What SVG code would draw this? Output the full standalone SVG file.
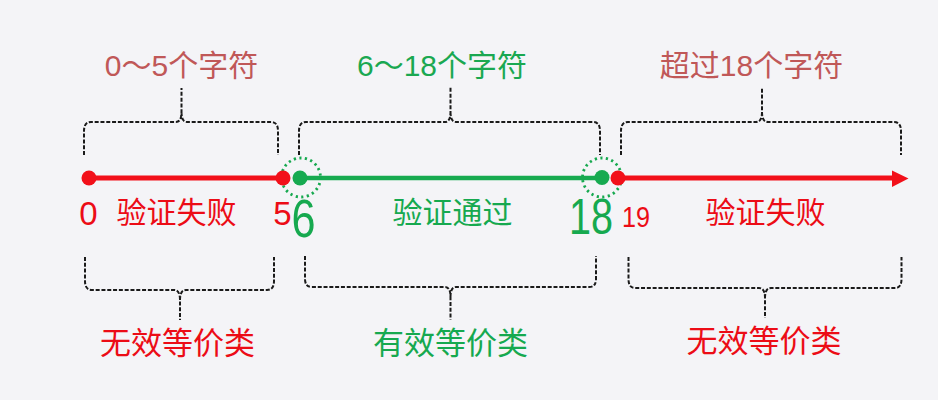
<svg xmlns="http://www.w3.org/2000/svg" width="938" height="400" viewBox="0 0 938 400">
<style>
text{font-family:"Liberation Sans","Noto Sans CJK SC",sans-serif;text-anchor:middle}
.brace{fill:none;stroke:#1a1a1a;stroke-width:2;stroke-dasharray:4 1.8}
.red{fill:#ec0c16}
.green{fill:#16a94f}
.top{fill:#c05858;font-size:30px}
.topg{fill:#1aa851;font-size:30px}
.lbl{font-size:30px}
.num{font-size:33px}
.ring{fill:none;stroke:#16a94f;stroke-width:2.8;stroke-dasharray:2.2 3.4}
</style>
<rect width="938" height="400" fill="#f4f4f7"/>
<g id="connectors">
<line x1="89" y1="178" x2="283" y2="178" stroke="#f2101a" stroke-width="5"/>
<line x1="300" y1="178" x2="602" y2="178" stroke="#17aa50" stroke-width="4.5"/>
<line x1="618" y1="178" x2="894" y2="178" stroke="#f2101a" stroke-width="5"/>
<polygon points="892,170.5 908.5,178.5 892,187" fill="#f2101a"/>
</g>
<g id="braces-top">
<path class="brace" d="M84,155 L84,131 Q84,122 91,122 L176,122 Q181.5,122 181.5,112 L181.5,88 M181.5,112 Q181.5,122 187,122 L271,122 Q278,122 278,131 L278,155"/>
<path class="brace" d="M299,155 L299,131 Q299,122 306,122 L445,122 Q450.5,122 450.5,112 L450.5,87 M450.5,112 Q450.5,122 456,122 L593,122 Q600,122 600,131 L600,155"/>
<path class="brace" d="M621,155 L621,131 Q621,122 628,122 L756,122 Q762,122 762,112 L762,88 M762,112 Q762,122 768,122 L894,122 Q901,122 901,131 L901,155"/>
</g>
<g id="braces-bottom">
<path class="brace" d="M85,257 L85,281 Q85,290 92,290 L174,290 Q180,290 180,300 L180,320 M180,300 Q180,290 186,290 L267,290 Q274,290 274,281 L274,257"/>
<path class="brace" d="M305,256 L305,279 Q305,287 312,287 L445,287 Q450.5,287 450.5,297 L450.5,320 M450.5,297 Q450.5,287 456,287 L589,287 Q596,287 596,279 L596,256"/>
<path class="brace" d="M628.5,257 L628.5,279 Q628.5,288 635,288 L759,288 Q765,288 765,298 L765,318 M765,298 Q765,288 771,288 L895,288 Q901.5,288 901.5,279 L901.5,257"/>
</g>
<g id="points">
<circle class="ring" cx="301" cy="177.5" r="19.5"/>
<circle class="ring" cx="602" cy="177.5" r="19.5"/>
<circle cx="89" cy="178" r="7.5" fill="#f2101a"/>
<circle cx="283" cy="178" r="7.5" fill="#f2101a"/>
<circle cx="300" cy="178" r="7.5" fill="#17aa50"/>
<circle cx="602" cy="177.5" r="7.5" fill="#17aa50"/>
<circle cx="618" cy="178" r="7.5" fill="#f2101a"/>
</g>
<g id="top-labels">
<text class="top" x="181.5" y="76">0～5个字符</text>
<text class="topg" x="442" y="76">6～18个字符</text>
<text class="top" x="751.5" y="76">超过18个字符</text>
</g>
<g id="axis-labels">
<text class="red num" x="88.5" y="225">0</text>
<text class="red lbl" x="176.5" y="223">验证失败</text>
<text class="red num" x="282.5" y="225">5</text>
<text class="green" x="303.5" y="237" font-size="54" textLength="24" lengthAdjust="spacingAndGlyphs">6</text>
<text class="green lbl" x="452.5" y="223">验证通过</text>
<text class="green" x="591" y="234" font-size="50" textLength="44" lengthAdjust="spacingAndGlyphs">18</text>
<text class="red" x="636" y="227" font-size="30" textLength="28" lengthAdjust="spacingAndGlyphs">19</text>
<text class="red lbl" x="765.5" y="223">验证失败</text>
</g>
<g id="bottom-labels">
<text class="red" x="177.5" y="354" font-size="31">无效等价类</text>
<text class="green" x="450.5" y="354" font-size="31">有效等价类</text>
<text class="red" x="764" y="352" font-size="31">无效等价类</text>
</g>
</svg>
